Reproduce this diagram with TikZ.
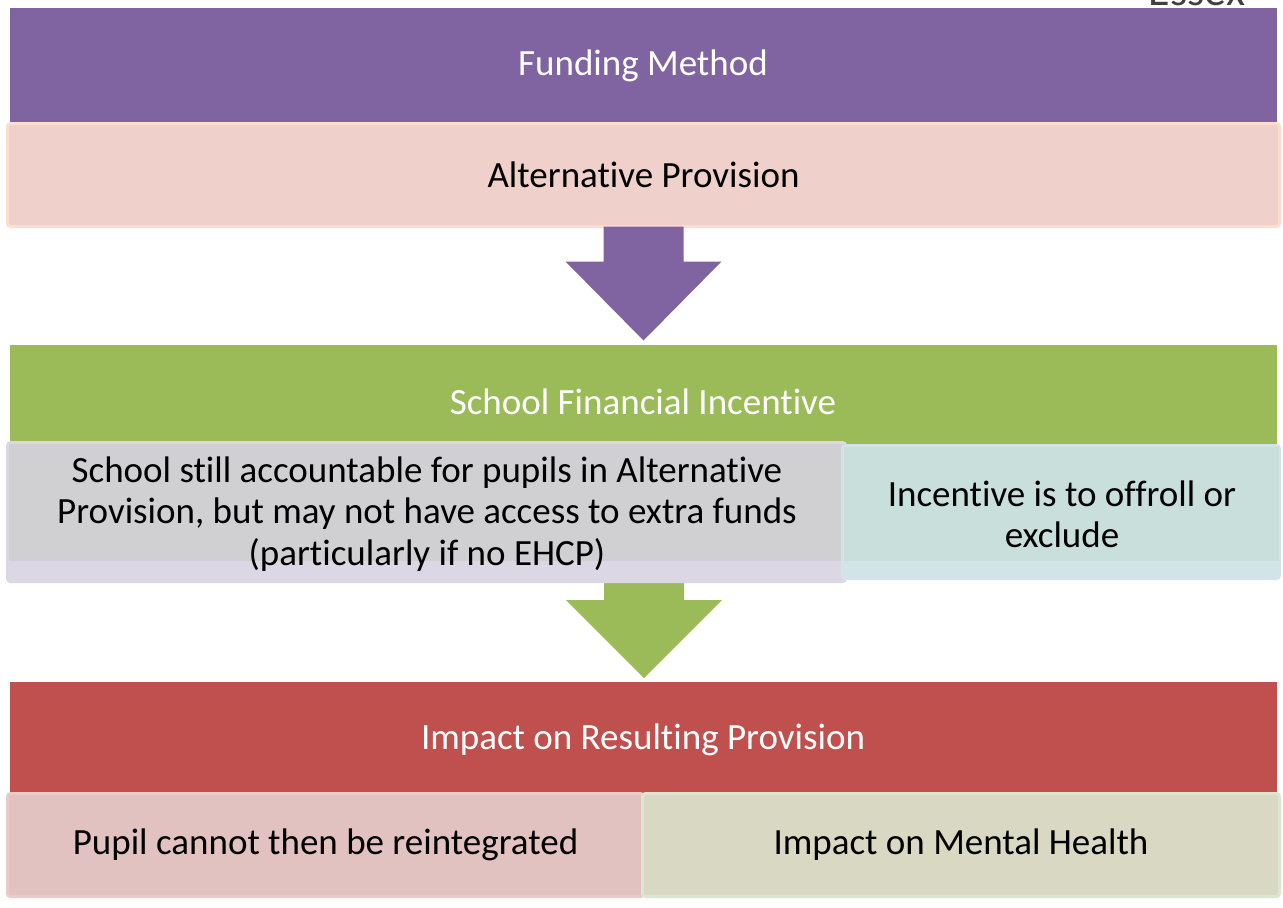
\documentclass[tikz,border=0pt]{standalone}
\usepackage{fontspec}
\setmainfont[Ligatures={NoCommon,NoRare,NoContextual}]{Carlito}
\newcommand\nolti{t\kern0pt i}
\usetikzlibrary{calc}
\definecolor{cpurple}{HTML}{8064A2}
\definecolor{cgreen}{HTML}{9BBB59}
\definecolor{cred}{HTML}{C0504D}
\definecolor{apfill}{HTML}{F0D0CB}
\definecolor{apline}{HTML}{FCDDD0}
\definecolor{grayfill}{HTML}{D0CFD2}
\definecolor{graylow}{HTML}{DBD7E4}
\definecolor{tealfill}{HTML}{C9DFDB}
\definecolor{teallow}{HTML}{D3E4E9}
\definecolor{pinkfill}{HTML}{E2C1C1}
\definecolor{pinkline}{HTML}{E9CBCB}
\definecolor{khakifill}{HTML}{D9D8C3}
\definecolor{khakiline}{HTML}{DCE7D2}
\tikzset{
  band/.style={rectangle, inner sep=0pt, outer sep=0pt, text=white, font=\fontsize{37}{41}\selectfont},
  subbox/.style={rectangle, rounded corners=3pt, line width=3pt, inner sep=0pt, outer sep=0pt, text=black, align=center, font=\fontsize{37}{41}\selectfont}
}
\begin{document}
\begin{tikzpicture}[x=1pt,y=-1pt]
\useasboundingbox (0,0) rectangle (1283,908);
% partially visible header text
\node[anchor=base, text=black!75, font=\fontsize{44}{44}\selectfont] (essex) at (1197,5) {Essex};

% Top section
\node[band, fill=cpurple, minimum width=1267pt, minimum height=116pt, anchor=north west] (fm) at (10,8) {};
\node[text=white, font=\fontsize{37}{41}\selectfont] (fmt) at (643,66) {Funding Method};
\node[subbox, fill=apfill, draw=apline, minimum width=1272pt, minimum height=103pt, anchor=north west] (ap) at (7.5,123.5) {Alterna\nolti ve Provision};

% arrow 1
\coordinate (a1top) at (ap.south);
\fill[cpurple] ($(a1top)+(-40,0)$) -- ($(a1top)+(40,0)$) -- ($(a1top)+(40,35)$) -- ($(a1top)+(78,35)$)
  -- ($(a1top)+(0,114)$) -- ($(a1top)+(-78,35)$) -- ($(a1top)+(-40,35)$) -- cycle;

% Middle section
\node[band, fill=cgreen, minimum width=1267pt, minimum height=216pt, anchor=north west] (sfi) at (10,345) {};
\node[text=white, font=\fontsize{37}{41}\selectfont] (sfit) at (643,402) {School Financial Incen\nolti ve};

% arrow 2 (behind lower boxes)
\coordinate (a2top) at (644,561);
\fill[cgreen] ($(a2top)+(-40,0)$) -- ($(a2top)+(40,0)$) -- ($(a2top)+(40,39)$) -- ($(a2top)+(78,39)$)
  -- ($(a2top)+(0,117)$) -- ($(a2top)+(-78,39)$) -- ($(a2top)+(-40,39)$) -- cycle;

\node[subbox, fill=graylow, draw=graylow, minimum width=838pt, minimum height=139pt, anchor=north west] (acc) at (7.5,442.5) {};
\fill[grayfill] (9,444) rectangle (845,561);
\node[align=center, font=\fontsize{37}{41.5}\selectfont] (acct) at (427,514) {School still accountable for pupils in Alterna\nolti ve\\Provision, but may not have access to extra funds\\(par\nolti cularly if no EHCP)};

\node[subbox, fill=teallow, draw=teallow, minimum width=437pt, minimum height=133pt, anchor=north west] (inc) at (842.5,445.5) {};
\fill[tealfill] (844,447) rectangle (1279,561);
\node[align=center, font=\fontsize{37}{41}\selectfont] (inct) at (1062,514) {Incen\nolti ve is to offroll or\\exclude};

% Bottom section
\node[band, fill=cred, minimum width=1267pt, minimum height=112pt, anchor=north west] (irp) at (10,682) {};
\node[text=white, font=\fontsize{37}{41}\selectfont] (irpt) at (643,740) {Impact on Resulting Provision};

\node[subbox, fill=pinkfill, draw=pinkline, minimum width=636pt, minimum height=103pt, anchor=north west] (reint) at (7.5,793.5) {Pupil cannot then be reintegrated};
\node[subbox, fill=khakifill, draw=khakiline, minimum width=637pt, minimum height=103pt, anchor=north west] (mh) at (642.5,793.5) {Impact on Mental Health};
\end{tikzpicture}
\end{document}
